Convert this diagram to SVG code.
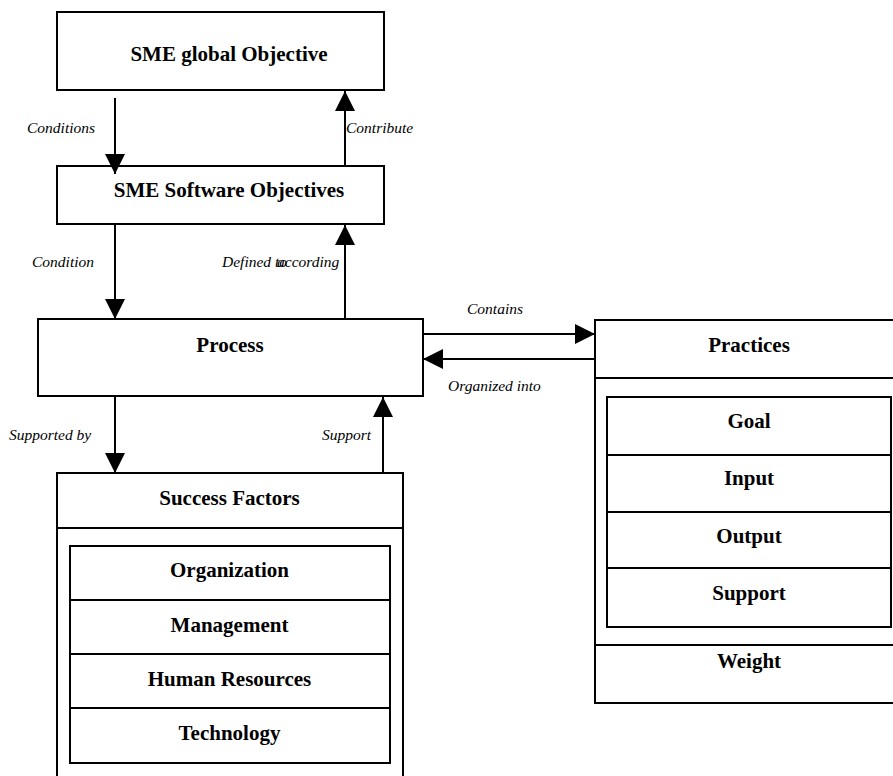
<svg xmlns="http://www.w3.org/2000/svg" width="893" height="776" viewBox="0 0 893 776">
<style>
.box{fill:#fff;stroke:#000;stroke-width:2}
.ln{stroke:#000;stroke-width:2;fill:none}
.t{font-family:"Liberation Serif","Times New Roman",serif;font-weight:bold;font-size:21px;text-anchor:middle;fill:#000}
.l{font-family:"Liberation Serif","Times New Roman",serif;font-style:italic;font-size:15.5px;fill:#000}
.c{stroke:#000;stroke-width:2;fill:none;marker-end:url(#ah)}
</style>
<defs>
<marker id="ah" viewBox="0 0 20 20" refX="20" refY="10" markerWidth="20" markerHeight="20" markerUnits="userSpaceOnUse" orient="auto">
<path d="M0,0 L20,10 L0,20 Z" fill="#000"/>
</marker>
</defs>
<rect width="893" height="776" fill="#fff"/>
<g id="sme-global">
<rect class="box" x="57" y="12" width="327" height="78"/>
<text class="t" x="229" y="61">SME global Objective</text>
</g>
<g id="sme-software">
<rect class="box" x="57" y="166" width="327" height="58"/>
<text class="t" x="229" y="197">SME Software Objectives</text>
</g>
<g id="process">
<rect class="box" x="38" y="319" width="385" height="77"/>
<text class="t" x="230" y="352">Process</text>
</g>
<g id="success-factors">
<rect class="box" x="57" y="473" width="346" height="320"/>
<line class="ln" x1="57" y1="528" x2="403" y2="528"/>
<text class="t" x="229.5" y="505">Success Factors</text>
<rect class="box" x="70" y="546" width="320" height="217"/>
<line class="ln" x1="70" y1="600" x2="390" y2="600"/>
<line class="ln" x1="70" y1="654" x2="390" y2="654"/>
<line class="ln" x1="70" y1="708" x2="390" y2="708"/>
<text class="t" x="229.5" y="577">Organization</text>
<text class="t" x="229.5" y="632">Management</text>
<text class="t" x="229.5" y="686">Human Resources</text>
<text class="t" x="229.5" y="740">Technology</text>
</g>
<g id="practices">
<rect class="box" x="595" y="320" width="310" height="383"/>
<line class="ln" x1="595" y1="378" x2="893" y2="378"/>
<text class="t" x="749" y="352">Practices</text>
<rect class="box" x="607" y="397" width="284" height="230"/>
<line class="ln" x1="607" y1="455" x2="891" y2="455"/>
<line class="ln" x1="607" y1="512" x2="891" y2="512"/>
<line class="ln" x1="607" y1="568" x2="891" y2="568"/>
<line class="ln" x1="595" y1="645" x2="893" y2="645"/>
<text class="t" x="749" y="428">Goal</text>
<text class="t" x="749" y="485">Input</text>
<text class="t" x="749" y="543">Output</text>
<text class="t" x="749" y="600">Support</text>
<text class="t" x="749" y="668">Weight</text>
</g>
<g id="connectors">
<line class="c" x1="115" y1="98" x2="115" y2="174"/>
<line class="c" x1="345" y1="166" x2="345" y2="91"/>
<line class="c" x1="115" y1="224" x2="115" y2="319"/>
<line class="c" x1="345" y1="319" x2="345" y2="225"/>
<line class="c" x1="423" y1="334" x2="595" y2="334"/>
<line class="c" x1="595" y1="359" x2="423" y2="359"/>
<line class="c" x1="115" y1="396" x2="115" y2="473"/>
<line class="c" x1="383" y1="473" x2="383" y2="397"/>
<text class="l" x="27" y="133">Conditions</text>
<text class="l" x="346" y="133">Contribute</text>
<text class="l" x="32" y="267">Condition</text>
<text class="l" x="222" y="267">Defined to</text>
<text class="l" x="277" y="267">according</text>
<text class="l" x="467" y="314">Contains</text>
<text class="l" x="448" y="391">Organized into</text>
<text class="l" x="9" y="440">Supported by</text>
<text class="l" x="322" y="440">Support</text>
</g>
</svg>
